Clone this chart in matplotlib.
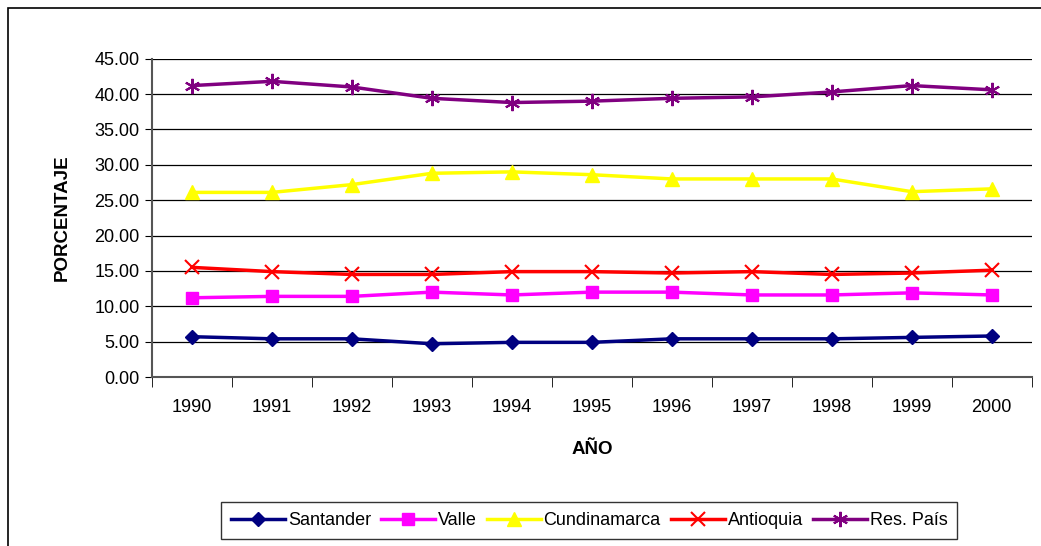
import matplotlib.pyplot as plt
from matplotlib.patches import Rectangle

plt.rcParams['font.family'] = ['Liberation Sans', 'DejaVu Sans']

# datos
anios = ['1990', '1991', '1992', '1993', '1994', '1995', '1996', '1997', '1998', '1999', '2000']
santander = [5.7, 5.4, 5.4, 4.7, 4.9, 4.9, 5.4, 5.4, 5.4, 5.6, 5.8]
valle = [11.2, 11.4, 11.4, 12.0, 11.6, 12.0, 12.0, 11.6, 11.6, 11.9, 11.6]
cundinamarca = [26.1, 26.1, 27.2, 28.8, 29.0, 28.6, 28.0, 28.0, 28.0, 26.2, 26.6]
antioquia = [15.5, 14.9, 14.5, 14.5, 14.9, 14.9, 14.7, 14.9, 14.5, 14.7, 15.1]
res_pais = [41.2, 41.8, 41.0, 39.4, 38.8, 39.0, 39.4, 39.6, 40.3, 41.2, 40.6]
y_ticks = [0, 5, 10, 15, 20, 25, 30, 35, 40, 45]

fig = plt.figure(figsize=(10.41, 5.46), dpi=100)
ax = fig.add_axes([0.146, 0.3095, 0.845, 0.583])

x = range(len(anios))
ax.plot(x, santander, color='#000080', lw=2.5, marker='D', ms=7, label='Santander')
ax.plot(x, valle, color='#FF00FF', lw=2.5, marker='s', ms=8, label='Valle')
ax.plot(x, cundinamarca, color='#FFFF00', lw=2.5, marker='^', ms=10, label='Cundinamarca')
ax.plot(x, antioquia, color='#FF0000', lw=2.5, marker='x', ms=10, mew=1.5, label='Antioquia')
ax.plot(x, res_pais, color='#800080', lw=2.5, marker=(6, 2, 0), ms=11, mew=1.5, label='Res. País')

ax.set_xlim(-0.5, len(anios) - 0.5)
ax.set_ylim(0, 45)
ax.set_yticks(y_ticks)
ax.set_yticklabels(['%.2f' % v for v in y_ticks], fontsize=13)
ax.set_xticks(list(x))
ax.set_xticklabels(anios, fontsize=13)
ax.set_xticks([i - 0.5 for i in range(len(anios) + 1)], minor=True)
ax.tick_params(axis='x', which='major', length=0, pad=16)
ax.tick_params(axis='x', which='minor', length=7, direction='out')
ax.tick_params(axis='y', length=5, direction='out', pad=4)
ax.grid(axis='y', color='black', lw=0.9)
ax.set_axisbelow(True)
for s in ['top', 'right']:
    ax.spines[s].set_visible(False)
ax.spines['left'].set_color('#555555')
ax.spines['bottom'].set_color('#555555')
ax.spines['left'].set_linewidth(1.5)
ax.spines['bottom'].set_linewidth(1.5)

ax.set_xlabel('AÑO', fontsize=13.5, fontweight='bold', labelpad=18)
ax.set_ylabel('PORCENTAJE', fontsize=13.5, fontweight='bold', labelpad=17)

fig.legend(loc='lower center', bbox_to_anchor=(0.566, -0.004), ncol=5, frameon=True,
           fancybox=False, edgecolor='black', fontsize=13, handlelength=3.0,
           handletextpad=0.15, columnspacing=0.55, borderpad=0.55)

# marco exterior del grafico
fig.patches.append(Rectangle((8 / 1041, -0.05), 1.2, 1 - 8 / 546 + 0.05,
                             transform=fig.transFigure, fill=False,
                             edgecolor='black', lw=1.2))

fig.savefig('out.png', dpi=100)
